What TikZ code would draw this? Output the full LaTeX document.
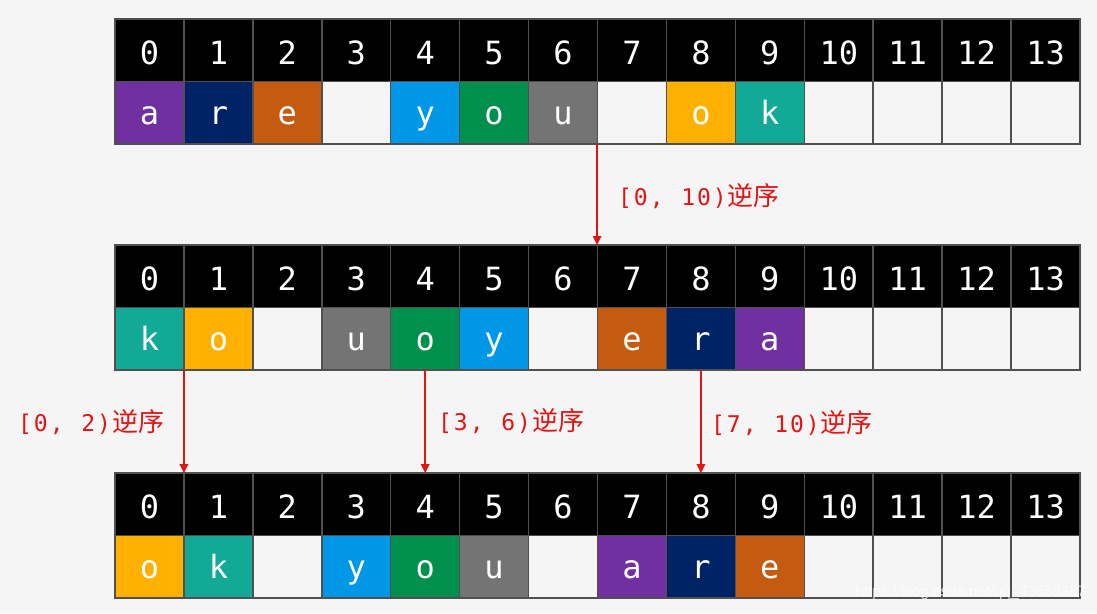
\documentclass[tikz,border=0pt]{standalone}
\usepackage{fontspec}
\usetikzlibrary{arrows.meta}
\newfontfamily\cellfont{DejaVu Sans Mono}
\newfontfamily\cjkfont{Noto Sans CJK SC}
\newfontfamily\markfont{Liberation Sans}
\definecolor{bgc}{HTML}{F5F5F5}
\definecolor{gridc}{HTML}{505050}
\definecolor{cpurp}{HTML}{7030A0}
\definecolor{cnavy}{HTML}{002366}
\definecolor{corange}{HTML}{C55A11}
\definecolor{cblue}{HTML}{0098E6}
\definecolor{cgreen}{HTML}{008F4C}
\definecolor{cgray}{HTML}{747474}
\definecolor{cgold}{HTML}{FFB000}
\definecolor{cteal}{HTML}{12AA96}
\definecolor{lblred}{HTML}{E31414}
\newcommand\chbox[1]{\makebox[15.8pt]{#1}}
\newcommand\rangelabel[2]{{\cellfont\fontsize{23}{25}\selectfont\chbox{[}#1}{\cjkfont\fontsize{26}{28}\selectfont 逆序}}
\begin{document}
\begin{tikzpicture}[x=1pt,y=-1pt,
  hcell/.style={draw=gridc, line width=1.5pt, fill=black, text=white, outer sep=0pt,
    minimum width=68.93pt, minimum height=62.5pt, inner sep=0pt,
    font=\cellfont\fontsize{32}{34}\selectfont, text height=28pt, text depth=0pt},
  dcell/.style={draw=gridc, line width=1.5pt, fill=#1, text=white, outer sep=0pt,
    minimum width=68.93pt, minimum height=62.5pt, inner sep=0pt,
    font=\cellfont\fontsize{32}{34}\selectfont, text height=24pt, text depth=0pt},
  revarrow/.style={draw=lblred, line width=1.6pt, -{Triangle[width=8.5pt,length=9pt]}},
  revlabel/.style={text=lblred, inner sep=0pt, anchor=west}]
\fill[bgc] (0,0) rectangle (1097,613);
\useasboundingbox (0,0) rectangle (1097,613);
% row 1
\foreach \i in {0,...,13} \node[hcell] (h1-\i) at ({115+(\i+0.5)*68.93},50.25) {\i};
\foreach \i/\c/\t in {0/cpurp/a,1/cnavy/r,2/corange/e,3/bgc/,4/cblue/y,5/cgreen/o,6/cgray/u,7/bgc/,8/cgold/o,9/cteal/k,10/bgc/,11/bgc/,12/bgc/,13/bgc/}
  \node[dcell=\c] (d1-\i) at ({115+(\i+0.5)*68.93},112.75) {\t};
% row 2
\foreach \i in {0,...,13} \node[hcell] (h2-\i) at ({115+(\i+0.5)*68.93},276.25) {\i};
\foreach \i/\c/\t in {0/cteal/k,1/cgold/o,2/bgc/,3/cgray/u,4/cgreen/o,5/cblue/y,6/bgc/,7/corange/e,8/cnavy/r,9/cpurp/a,10/bgc/,11/bgc/,12/bgc/,13/bgc/}
  \node[dcell=\c] (d2-\i) at ({115+(\i+0.5)*68.93},338.75) {\t};
% row 3
\foreach \i in {0,...,13} \node[hcell] (h3-\i) at ({115+(\i+0.5)*68.93},504.25) {\i};
\foreach \i/\c/\t in {0/cgold/o,1/cteal/k,2/bgc/,3/cblue/y,4/cgreen/o,5/cgray/u,6/bgc/,7/cpurp/a,8/cnavy/r,9/corange/e,10/bgc/,11/bgc/,12/bgc/,13/bgc/}
  \node[dcell=\c] (d3-\i) at ({115+(\i+0.5)*68.93},566.75) {\t};
% arrows
\draw[revarrow] ([xshift=-0.4pt]d1-6.south east) -- ([xshift=-0.4pt]h2-7.north west);
\draw[revarrow] (d2-0.south east) -- (h3-1.north west);
\draw[revarrow] (d2-4.south) -- (h3-4.north);
\draw[revarrow] (d2-8.south) -- (h3-8.north);
% labels
\node[revlabel] (l1) at (617,196) {\rangelabel{\chbox{0}\chbox{,}\chbox{ }\chbox{1}\chbox{0}\chbox{)}}{}};
\node[revlabel] (l2) at (17,422) {\rangelabel{\chbox{0}\chbox{,}\chbox{ }\chbox{2}\chbox{)}}{}};
\node[revlabel] (l3) at (437,421) {\rangelabel{\chbox{3}\chbox{,}\chbox{ }\chbox{6}\chbox{)}}{}};
\node[revlabel] (l4) at (710,423) {\rangelabel{\chbox{7}\chbox{,}\chbox{ }\chbox{1}\chbox{0}\chbox{)}}{}};
% watermark
\node[text=white, opacity=0.75, inner sep=0pt, anchor=east, font=\markfont\fontsize{15}{17}\selectfont] (wm) at (1086,593) {https://blog.csdn.net/qq\_43658387};
\end{tikzpicture}
\end{document}
